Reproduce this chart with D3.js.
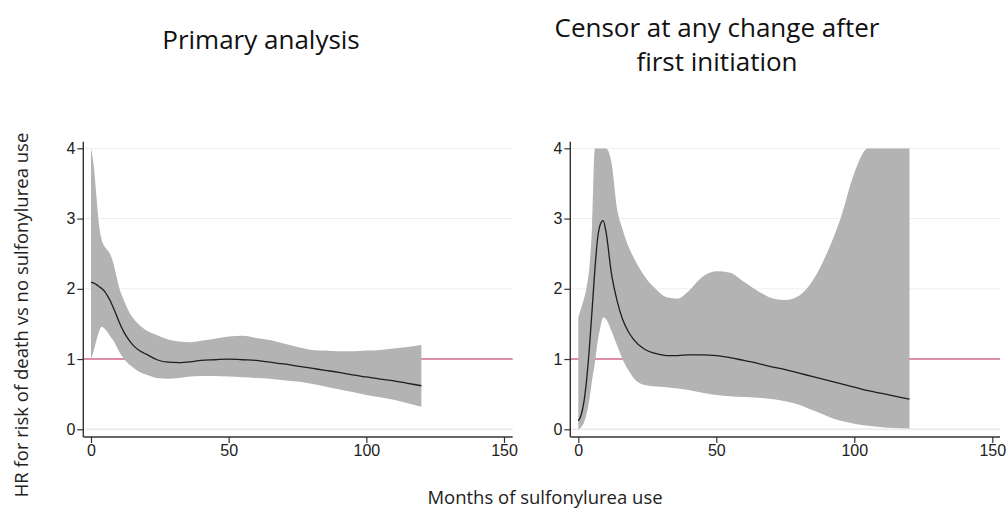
<!DOCTYPE html>
<html>
<head>
<meta charset="utf-8">
<script src="https://cdn.jsdelivr.net/npm/d3@7"></script>
<style>
  html, body { margin: 0; padding: 0; background: #fff; }
  svg { display: block; }
</style>
</head>
<body>
<svg id="chart" width="1007" height="509"></svg>
<script>
// Months since initiation at which the spline estimates are tabulated
const months = [0,1,2,3,4,5,6,7,8,9,10,12,14,16,18,20,24,28,32,36,40,45,50,55,60,65,70,75,80,85,90,95,100,105,110,115,120];

// Primary analysis: hazard ratio and 95% CI
const primaryHR    = [2.09,2.08,2.06,2.03,2.00,1.96,1.90,1.83,1.74,1.65,1.55,1.38,1.26,1.17,1.11,1.07,0.99,0.955,0.95,0.96,0.98,0.99,1.00,0.99,0.98,0.955,0.93,0.90,0.87,0.84,0.81,0.775,0.745,0.715,0.69,0.655,0.62];
const primaryLower = [0.99,1.12,1.27,1.40,1.46,1.43,1.38,1.32,1.27,1.20,1.12,1.00,0.92,0.86,0.81,0.78,0.73,0.72,0.73,0.75,0.76,0.76,0.75,0.74,0.73,0.72,0.70,0.68,0.65,0.61,0.57,0.53,0.49,0.455,0.42,0.37,0.32];
const primaryUpper = [4.00,3.75,3.30,2.88,2.68,2.60,2.55,2.49,2.38,2.22,2.05,1.83,1.66,1.55,1.47,1.41,1.34,1.28,1.25,1.24,1.26,1.29,1.32,1.33,1.30,1.27,1.22,1.17,1.13,1.12,1.11,1.11,1.12,1.13,1.15,1.17,1.20];

// Censored at any change after first initiation: hazard ratio and 95% CI (upper bound shown capped at 4)
const censorHR    = [0.12,0.20,0.38,0.70,1.15,1.70,2.27,2.72,2.92,2.97,2.82,2.22,1.84,1.57,1.40,1.28,1.14,1.08,1.05,1.05,1.06,1.06,1.05,1.02,0.98,0.94,0.89,0.85,0.80,0.75,0.70,0.65,0.60,0.55,0.51,0.47,0.43];
const censorLower = [0.00,0.03,0.09,0.22,0.42,0.70,0.94,1.25,1.45,1.59,1.57,1.40,1.20,1.00,0.85,0.73,0.63,0.61,0.60,0.58,0.56,0.52,0.49,0.47,0.46,0.45,0.43,0.40,0.35,0.27,0.19,0.12,0.08,0.05,0.03,0.02,0.01];
const censorUpper = [1.60,1.72,1.85,2.02,2.30,2.90,4.00,4.00,4.00,4.00,4.00,3.80,3.15,2.85,2.62,2.45,2.18,2.00,1.88,1.86,1.97,2.17,2.25,2.23,2.10,1.97,1.87,1.84,1.90,2.12,2.50,3.00,3.65,4.00,4.00,4.00,4.00];

const xTicks = [0, 50, 100, 150];
const yTicks = [0, 1, 2, 3, 4];
const referenceHR = 1;

const titles = [["Primary analysis"], ["Censor at any change after", "first initiation"]];
const xAxisTitle = "Months of sulfonylurea use";
const yAxisTitle = "HR for risk of death vs no sulfonylurea  use";

const panels = [
  { hr: primaryHR, lo: primaryLower, hi: primaryUpper, title: titles[0],
    axisX: 83.3, x0: 91, x1: 504, right: 512.7, titleX: 261, titleY: [49] },
  { hr: censorHR, lo: censorLower, hi: censorUpper, title: titles[1],
    axisX: 570.3, x0: 578.3, x1: 992.3, right: 1000, titleX: 717, titleY: [37, 71] }
];

const svg = d3.select("#chart");
const yTop = 148.3, yBottom = 429.3, axisY = 437;
const tickFont = "'Liberation Sans', Arial, sans-serif";
const textFont = "'Open Sans', 'Noto Sans', sans-serif";

panels.forEach((p, pi) => {
  const x = d3.scaleLinear().domain([0, 150]).range([p.x0, p.x1]);
  const y = d3.scaleLinear().domain([0, 4]).range([yBottom, yTop]);
  const g = svg.append("g");

  const clipId = "clip" + pi;
  svg.append("clipPath").attr("id", clipId)
    .append("rect").attr("x", p.axisX).attr("y", yTop)
    .attr("width", p.right - p.axisX).attr("height", yBottom - yTop + 6);

  // horizontal grid
  g.selectAll("line.grid").data(yTicks).join("line")
    .attr("class", "grid")
    .attr("x1", p.axisX + 1).attr("x2", p.right)
    .attr("y1", d => y(d)).attr("y2", d => y(d))
    .attr("stroke", d => d === 0 ? "#ececec" : "#eeeeee")
    .attr("stroke-width", d => d === 0 ? 2 : 1);

  const rows = months.map((m, i) => ({ m, hr: p.hr[i], lo: p.lo[i], hi: p.hi[i] }));

  // reference line at HR = 1
  g.append("line")
    .attr("x1", p.axisX).attr("x2", p.right)
    .attr("y1", y(referenceHR)).attr("y2", y(referenceHR))
    .attr("stroke", "#d26e8a").attr("stroke-width", 1.6);

  // confidence band (drawn over the reference line)
  const area = d3.area()
    .x(d => x(d.m)).y0(d => y(d.lo)).y1(d => y(d.hi))
    .curve(d3.curveMonotoneX);
  g.append("path").datum(rows)
    .attr("clip-path", `url(#${clipId})`)
    .attr("d", area).attr("fill", "#b3b3b3");

  // point estimate
  const line = d3.line().x(d => x(d.m)).y(d => y(d.hr)).curve(d3.curveMonotoneX);
  g.append("path").datum(rows)
    .attr("d", line).attr("fill", "none")
    .attr("stroke", "#1e1e1e").attr("stroke-width", 1.3);

  // y axis
  const ya = g.append("g").attr("transform", `translate(${p.axisX},0)`)
    .call(d3.axisLeft(y).tickValues(yTicks).tickSize(6).tickSizeOuter(0).tickFormat(d3.format("d")));
  ya.select(".domain").remove();
  ya.append("line").attr("x1", 0).attr("x2", 0).attr("y1", 141.7).attr("y2", axisY)
    .attr("stroke", "#333").attr("stroke-width", 1.4);
  ya.selectAll(".tick line").attr("stroke", "#333").attr("stroke-width", 1.2);
  ya.selectAll(".tick text").attr("font-family", tickFont).attr("font-size", 16)
    .attr("fill", "#222").attr("x", -8);

  // x axis
  const xa = g.append("g").attr("transform", `translate(0,${axisY})`)
    .call(d3.axisBottom(x).tickValues(xTicks).tickSize(6).tickSizeOuter(0).tickFormat(d3.format("d")));
  xa.select(".domain").remove();
  xa.append("line").attr("x1", p.axisX).attr("x2", p.right).attr("y1", 0).attr("y2", 0)
    .attr("stroke", "#333").attr("stroke-width", 1.4);
  xa.selectAll(".tick line").attr("stroke", "#333").attr("stroke-width", 1.2);
  xa.selectAll(".tick text").attr("font-family", tickFont).attr("font-size", 16)
    .attr("fill", "#222").attr("y", 8);

  // panel title
  p.title.forEach((t, i) => {
    svg.append("text").attr("x", p.titleX).attr("y", p.titleY[i])
      .attr("text-anchor", "middle").attr("font-family", textFont)
      .attr("font-size", 26).attr("fill", "#111").text(t);
  });
});

svg.append("text").attr("x", 545).attr("y", 504)
  .attr("text-anchor", "middle").attr("font-family", textFont)
  .attr("font-size", 18.5).attr("fill", "#222").text(xAxisTitle);

svg.append("text").attr("transform", "translate(28,315) rotate(-90)")
  .attr("text-anchor", "middle").attr("font-family", textFont)
  .attr("font-size", 18.5).attr("fill", "#222").text(yAxisTitle);
</script>
</body>
</html>
